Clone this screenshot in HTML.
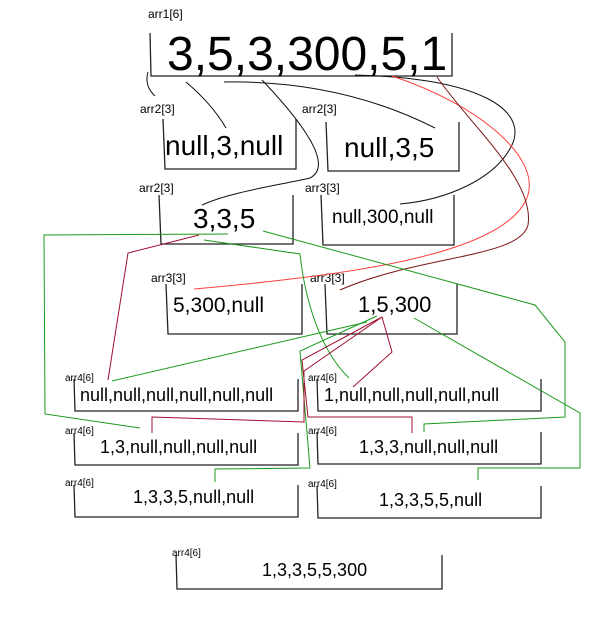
<!DOCTYPE html>
<html><head><meta charset="utf-8"><style>
html,body{margin:0;padding:0;background:#fff;}
svg{display:block;font-family:"Liberation Sans",sans-serif;}
</style></head><body>
<svg width="615" height="639" viewBox="0 0 615 639">
<g fill="none" stroke="#222" stroke-width="1.3">
<path d="M150,33 L151,76 L452,76 L452,33"/>
<path d="M163,119 L165,169 L296,169 L296,119"/>
<path d="M326,122 L328,171 L459,171 L459,122"/>
<path d="M159,195 L161,244 L293,244 L293,195"/>
<path d="M321,195 L323,245 L454,245 L454,195"/>
<path d="M166,284 L168,334 L302,334 L302,284"/>
<path d="M325,284 L327,334 L457,334 L457,284"/>
<path d="M74,379 L75,411 L298,411 L298,379"/>
<path d="M317,379 L318,411 L541,411 L541,379"/>
<path d="M74,433 L75,465 L298,465 L298,433"/>
<path d="M317,432 L318,464 L541,464 L541,432"/>
<path d="M74,485 L75,517 L298,517 L298,485"/>
<path d="M317,486 L318,518 L541,518 L541,486"/>
<path d="M176,555 L177,589 L442,589 L442,555"/>
</g>
<g fill="#000">
<text x="148" y="18" font-size="12">arr1[6]</text>
<text x="140" y="113" font-size="12">arr2[3]</text>
<text x="302" y="113" font-size="12">arr2[3]</text>
<text x="139" y="192" font-size="12">arr2[3]</text>
<text x="305" y="192" font-size="12">arr3[3]</text>
<text x="151" y="282" font-size="12">arr3[3]</text>
<text x="310" y="282" font-size="12">arr3[3]</text>
<text x="65" y="381" font-size="10">arr4[6]</text>
<text x="308" y="381" font-size="10">arr4[6]</text>
<text x="65" y="434" font-size="10">arr4[6]</text>
<text x="308" y="434" font-size="10">arr4[6]</text>
<text x="65" y="486" font-size="10">arr4[6]</text>
<text x="308" y="487" font-size="10">arr4[6]</text>
<text x="172" y="556" font-size="10">arr4[6]</text>
<text x="167" y="70" font-size="48">3,5,3,300,5,1</text>
<text x="165" y="155" font-size="28">null,3,null</text>
<text x="344" y="157" font-size="28">null,3,5</text>
<text x="193" y="228" font-size="28">3,3,5</text>
<text x="332" y="223" font-size="19">null,300,null</text>
<text x="173" y="312" font-size="21">5,300,null</text>
<text x="358" y="312" font-size="22">1,5,300</text>
<text x="80" y="401" font-size="18">null,null,null,null,null,null</text>
<text x="324" y="401" font-size="18">1,null,null,null,null,null</text>
<text x="100" y="453" font-size="18">1,3,null,null,null,null</text>
<text x="359" y="453" font-size="18">1,3,3,null,null,null</text>
<text x="133" y="503" font-size="18">1,3,3,5,null,null</text>
<text x="379" y="506" font-size="18">1,3,3,5,5,null</text>
<text x="262" y="576" font-size="18">1,3,3,5,5,300</text>
</g>
<g fill="none" stroke="#111" stroke-width="1">
<path d="M148,72 Q144,86 155,96"/>
<path d="M186,82 Q212,104 226,128"/>
<path d="M224,82 Q340,80 435,128"/>
<path d="M262,80 C300,120 335,165 310,178 C280,185 230,192 202,205"/>
<path d="M355,75 C480,78 528,110 512,145 C495,180 445,200 400,204"/>
</g>
<path d="M392,76 C480,105 545,160 526,200 C500,255 350,275 194,289" fill="none" stroke="#ff4040" stroke-width="1"/>
<path d="M437,77 C470,125 535,180 528,225 C520,258 420,255 340,290" fill="none" stroke="#7a1515" stroke-width="1"/>
<g fill="none" stroke="#1a9a1a" stroke-width="1">
<path d="M228,234 L44,235 L45,414 L140,428"/>
<path d="M204,240 L300,254 C305,300 320,350 349,378"/>
<path d="M263,231 L535,305 L565,342 L565,417 L424,424 L424,432"/>
<path d="M367,322 L112,381"/>
<path d="M377,316 L300,351 L310,468 L215,469 L215,482"/>
<path d="M414,318 L580,413 L580,468 L478,468 L478,480"/>
</g>
<g fill="none" stroke="#a01030" stroke-width="1">
<path d="M199,235 L128,253 L108,380"/>
<path d="M382,317 L392,352 L353,387"/>
<path d="M382,317 L302,360 L308,417 L412,417 L412,433"/>
<path d="M382,317 L304,371 L304,422 L152,417 L152,433"/>
</g>
</svg>
</body></html>
